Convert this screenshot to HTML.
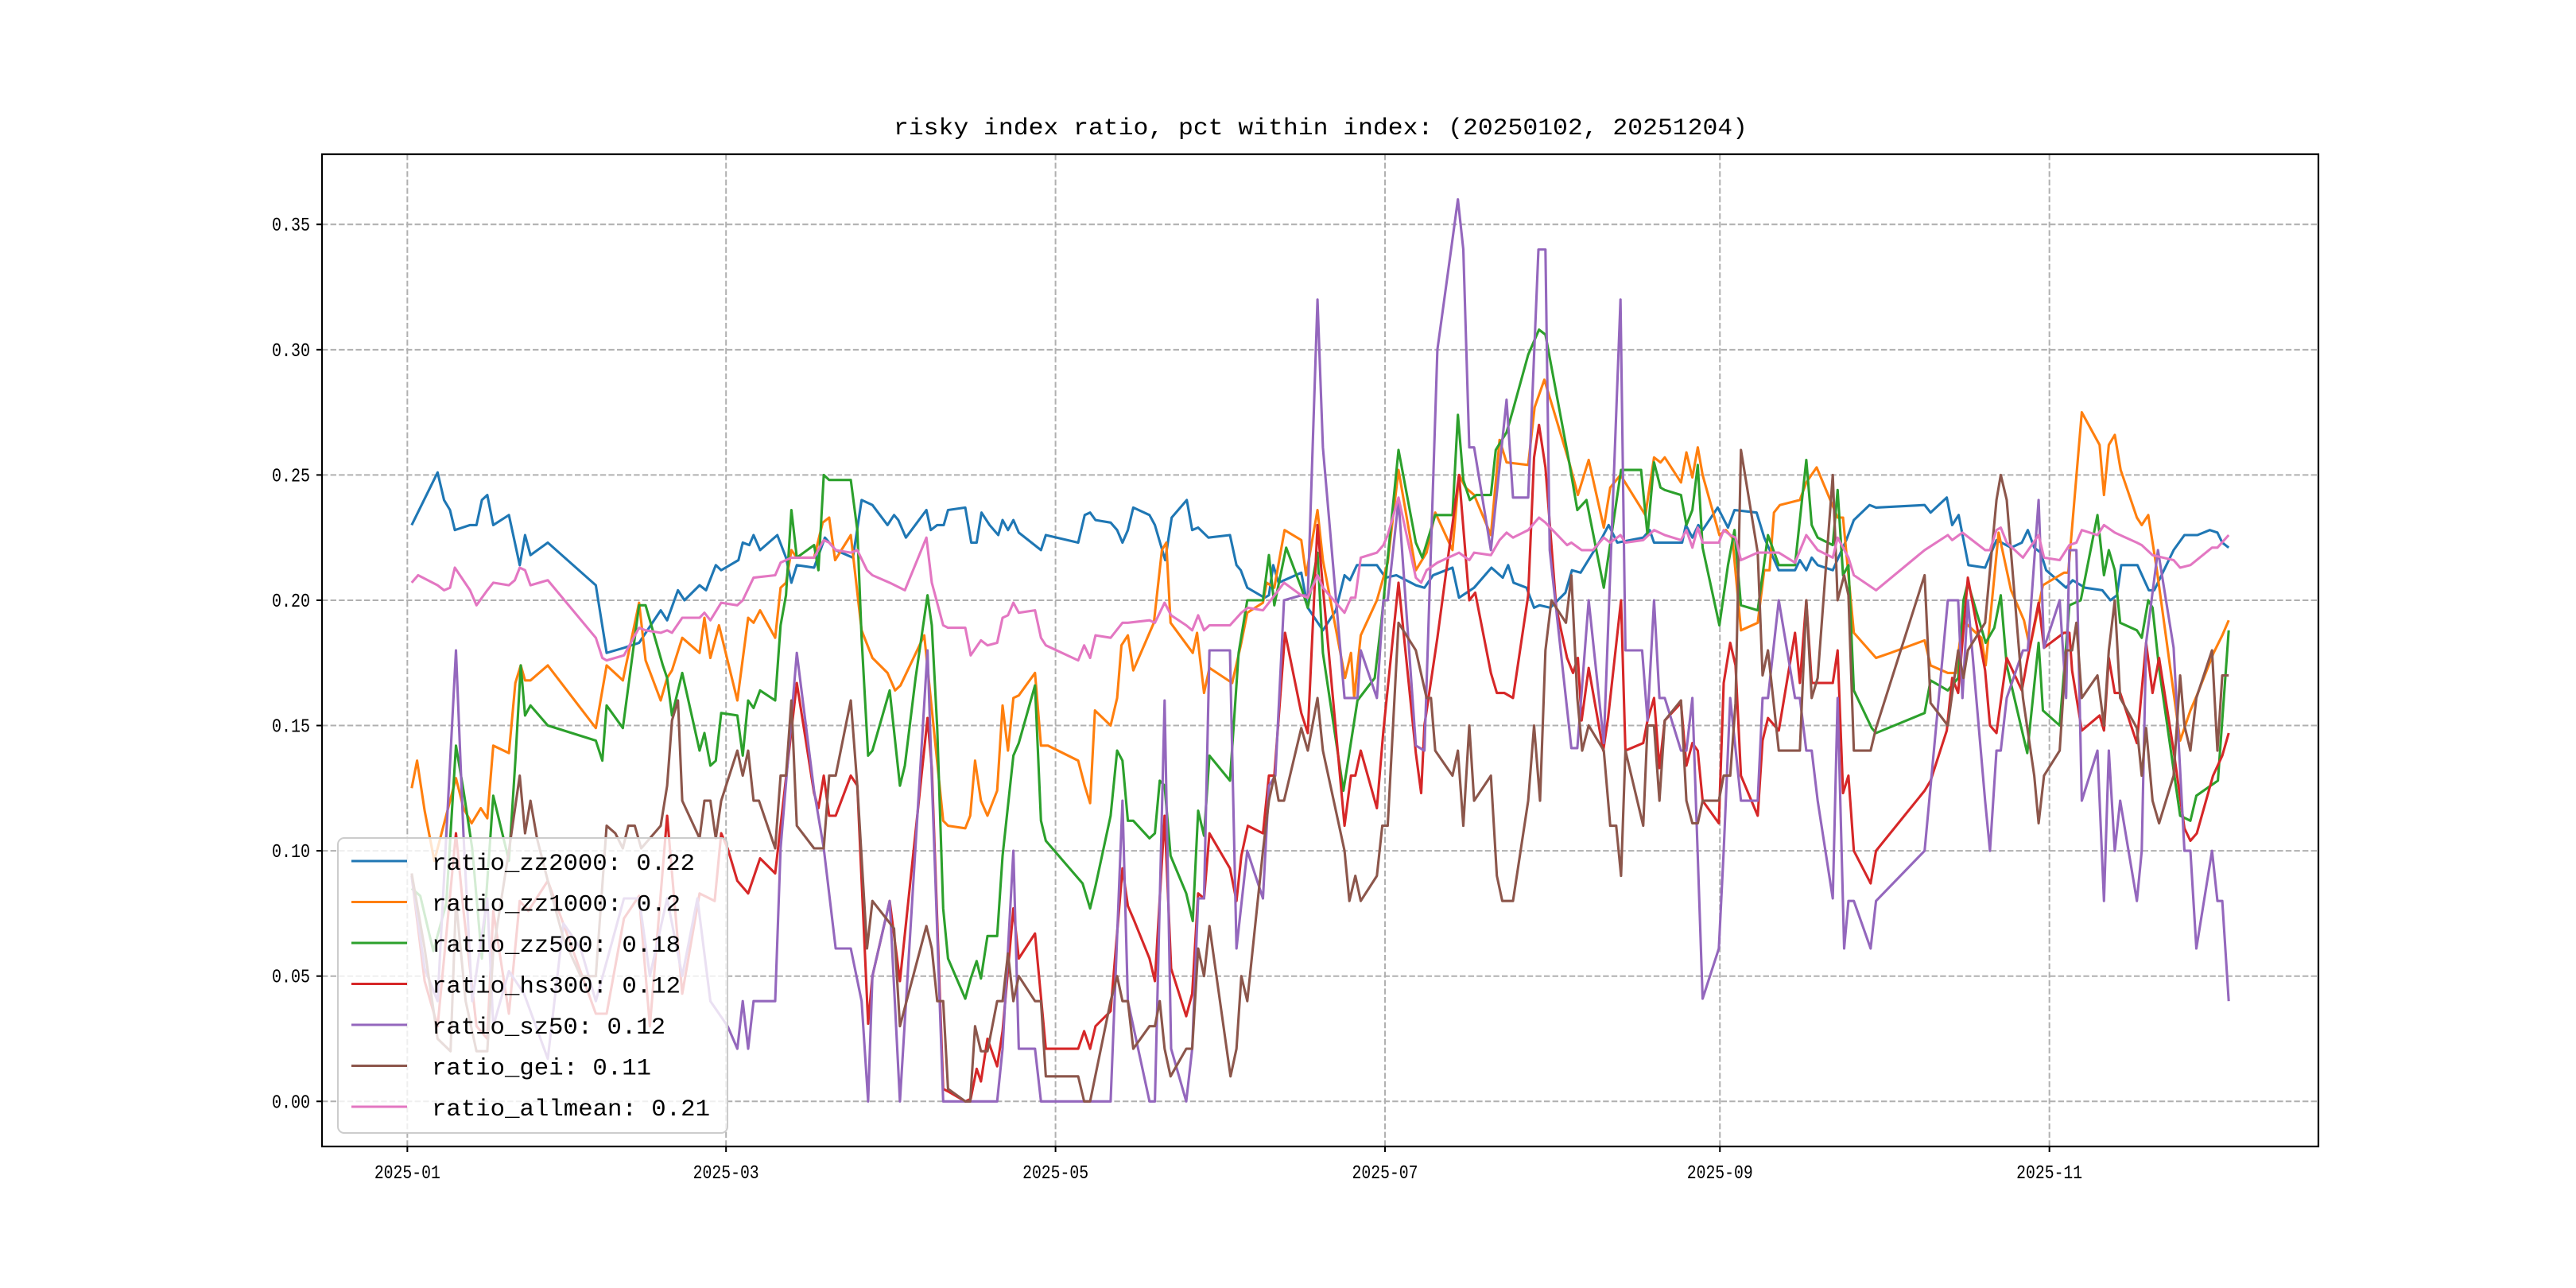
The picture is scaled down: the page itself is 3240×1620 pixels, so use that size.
<!DOCTYPE html>
<html><head><meta charset="utf-8"><style>html,body{margin:0;padding:0;background:#fff}svg{display:block}</style></head>
<body>
<svg id="chart" width="3240" height="1620" viewBox="0 0 3240 1620" xmlns="http://www.w3.org/2000/svg" font-family="'Liberation Mono','WenQuanYi Zen Hei',monospace">
<rect width="3240" height="1620" fill="#fff"/>
<g id="grid"></g>
<g id="series"></g>
<rect x="405" y="194" width="2511" height="1248" fill="none" stroke="#000" stroke-width="2.2"/>
<g id="ticks"></g>
<text x="1661" y="169" font-size="30" text-anchor="middle" textLength="1074" lengthAdjust="spacingAndGlyphs">risky index ratio, pct within index: (20250102, 20251204)</text>
<g id="legend"></g>
</svg>
<script>
const xTickDays=[0,59,120,181,243,304];
const xTickLabels=["2025-01","2025-03","2025-05","2025-07","2025-09","2025-11"];
const yTicks=[0,0.05,0.10,0.15,0.20,0.25,0.30,0.35];
const yTickLabels=["0.00","0.05","0.10","0.15","0.20","0.25","0.30","0.35"];
const seriesNames=["ratio_zz2000","ratio_zz1000","ratio_zz500","ratio_hs300","ratio_sz50","ratio_gei","ratio_allmean"];
const seriesMeans=["0.22","0.2","0.18","0.12","0.12","0.11","0.21"];
const colors=["#1f77b4","#ff7f0e","#2ca02c","#d62728","#9467bd","#8c564b","#e377c2"];

const zz2000Days=[0.8,5.6,6.8,7.9,8.8,11.6,12.8,13.8,14.8,15.9,18.8,20.8,21.8,22.8,26,34.9,36.9,40.1,42.9,46.9,48.1,50.1,51.3,54.1,55.3,57.1,58.1,61.3,62.1,63.3,64.1,65.3,68.5,70.1,71.1,72.1,75.3,77.3,79.3,82.5,84.1,86.1,88.9,90.1,90.9,92.3,96.1,96.9,98.1,99.3,100.1,103.3,104.4,105.4,106.3,107.8,109.4,110.2,111.2,112.2,113.2,117.3,118.2,124.2,125.4,126.4,127.4,130.2,131.4,132.4,133.4,134.4,137.4,138.4,140.3,141.5,144.3,145.3,146.4,148.3,152.3,153.5,154.3,155.5,158.7,159.5,160.3,161.3,165.5,166.7,169.5,171.9,173.5,174.5,175.8,179.5,181.1,183.1,186.7,188.3,189.9,193.5,194.7,197.5,200.7,202.8,203.8,204.8,207.2,208.6,209.6,211.6,214.4,215.6,217.2,219.2,221.2,222.4,224,228.8,230,230.8,232.8,236,236.7,237.9,239,239.8,242.6,244.5,245.7,249.8,251.2,253.9,256.9,257.8,259,260,261.1,263.9,266.4,267.8,270.7,271.9,280.9,282,285,286,287.2,289,292.1,294.2,296.9,298.9,300,301.2,302.4,303.4,307.1,308.3,310.6,313.8,315.3,316.5,317.3,320.3,322.4,323.4,327,329,331.4,333.7,335.1,336,337.2];
const zz2000Vals=[.230,.251,.240,.236,.228,.230,.230,.240,.242,.230,.234,.214,.226,.218,.223,.206,.179,.181,.183,.196,.192,.204,.200,.206,.204,.214,.212,.216,.223,.222,.226,.220,.226,.217,.207,.214,.213,.225,.220,.217,.240,.238,.230,.234,.232,.225,.236,.228,.230,.230,.236,.237,.223,.223,.235,.230,.226,.232,.228,.232,.227,.220,.226,.223,.234,.235,.232,.231,.228,.223,.228,.237,.234,.230,.216,.233,.240,.228,.229,.225,.226,.214,.212,.205,.201,.202,.214,.207,.211,.197,.188,.196,.210,.208,.214,.214,.209,.210,.206,.205,.210,.213,.201,.205,.213,.209,.214,.207,.205,.197,.198,.197,.203,.212,.211,.218,.225,.230,.223,.225,.228,.223,.223,.223,.230,.225,.230,.228,.237,.229,.236,.235,.225,.212,.212,.216,.212,.217,.214,.212,.224,.232,.238,.237,.238,.235,.241,.230,.234,.214,.213,.224,.221,.223,.228,.221,.219,.212,.205,.208,.205,.204,.200,.202,.214,.214,.204,.204,.220,.226,.226,.228,.227,.223,.221];

const zz1000Days=[0.8,1.8,3.2,5,9,10.4,11.9,13.6,14.8,15.9,18.8,20,21,21.8,22.8,26,34.9,36.9,39.9,42.9,44.1,46.9,48.1,49,50.9,54.1,55,56.1,57.7,61.1,63.1,64.1,65.3,68.1,69.1,70.1,71.1,72.1,75.3,76.9,78.1,79.2,82.1,84.1,86.1,88.9,90.3,91.3,95.7,99.2,100.1,103.3,104.2,105.1,106.2,107.4,109.2,110.2,111.2,112.2,113.2,116.2,117.3,118.6,124.2,125.4,126.4,127.3,130.2,131.4,132.2,133.4,134.4,138.2,139.7,140.5,141.3,145.4,146.2,147.5,148.5,152.7,154.3,155.5,158.4,159.1,160.5,162.4,165.5,166.4,168.5,169.5,173.6,174.7,175.3,176.5,179.5,181.5,183.5,186.7,188.7,190.3,193.5,194.7,195.9,197.5,200.6,202.2,203.5,207.5,208.7,210.5,211.9,215.1,216.7,218.7,221.5,222.7,224.6,229.2,230.8,232,232.8,235.8,236.8,237.9,238.9,239.8,242.9,244.1,245.3,246.9,250,251.2,252.2,253,254.1,257.8,259,260.9,264.8,265.8,267.8,271.9,274.6,280.9,282,285.2,286.7,287.9,291.4,292.2,294.6,296.9,299.3,300.4,302.8,306.7,307.5,310,313.3,314.1,315,316.1,317.2,320.2,321.1,322.3,323.9,328.2,330.1,331.3,334.4,336,337.2];
const zz1000Vals=[.125,.136,.116,.096,.129,.117,.111,.117,.113,.142,.139,.167,.174,.168,.168,.174,.149,.174,.168,.199,.176,.160,.169,.172,.185,.179,.193,.177,.190,.160,.193,.191,.196,.185,.205,.207,.220,.217,.217,.231,.233,.216,.226,.188,.177,.171,.164,.166,.186,.112,.110,.109,.114,.136,.120,.114,.124,.158,.140,.161,.162,.171,.142,.142,.136,.126,.119,.156,.150,.161,.182,.186,.172,.191,.220,.223,.191,.179,.187,.163,.173,.167,.182,.195,.199,.207,.205,.228,.224,.210,.236,.216,.169,.179,.161,.186,.200,.215,.252,.212,.219,.235,.220,.250,.245,.242,.226,.264,.255,.254,.277,.288,.278,.255,.242,.256,.229,.245,.250,.234,.257,.255,.257,.247,.259,.249,.261,.250,.226,.228,.225,.188,.191,.212,.212,.235,.238,.240,.247,.253,.233,.233,.187,.177,.179,.184,.174,.171,.171,.192,.185,.174,.227,.204,.192,.181,.206,.211,.211,.275,.262,.242,.262,.266,.252,.233,.230,.234,.212,.144,.156,.162,.179,.186,.192];

const zz500Days=[0.8,2.4,4.8,7.2,9,10.4,12,13.8,15.9,18.8,20,21,21.8,22.8,26,34.9,36.1,36.9,39.9,42.9,44.1,47.3,48.1,49,50.9,54.1,55,56.1,57.1,58.1,61.1,62.1,63.1,64.1,65.3,68.1,69.1,70.1,71.1,72.1,75.3,76.1,77.1,78.1,82.1,83.3,84.1,85.3,86.1,89.3,91.2,92.1,94.1,96.3,97.1,98.1,99.2,100.1,103.3,104.3,105.4,106.2,107.4,109.2,110.2,112.2,113.2,116.2,117.3,118.2,125,126.4,127.4,130.2,131.4,132.4,133.4,134.4,137.4,138.4,139.3,140.2,141.3,144.2,145.4,146.4,147.5,148.5,152.3,153.9,155.5,158.4,159.5,160.5,162.7,165.5,166.7,168.5,169.5,173.3,175.9,179.1,180.3,183.5,186.7,187.9,190.3,193.5,194.5,195.5,196.7,197.9,200.6,201.5,203.5,204.7,207.5,209.5,210.7,215.1,216.6,218.3,221.5,224.7,228.4,229.6,230.8,232,232.8,235.8,236.8,237.9,238.9,239.8,242.9,244.5,245.7,246.9,250,251.9,253.9,256.9,259,260,261.1,263.9,264.8,265.8,266.8,267.8,271.1,271.9,280.9,282,285.2,287.1,288.1,288.9,292.2,293.8,295,296.1,299.9,302,302.8,305.9,307.7,309.8,312.9,314.1,315,316.1,317.1,320.2,321.1,322.3,323.1,324.3,328.2,330.1,331.2,335.2,337.2];
const zz500Vals=[.085,.082,.060,.079,.142,.124,.101,.057,.122,.096,.136,.174,.154,.158,.150,.144,.136,.158,.149,.198,.198,.174,.169,.154,.171,.140,.147,.134,.136,.155,.154,.138,.160,.157,.164,.160,.190,.202,.236,.217,.222,.212,.250,.248,.248,.228,.185,.138,.140,.164,.126,.134,.169,.202,.190,.149,.077,.057,.041,.049,.056,.049,.066,.066,.098,.138,.143,.166,.112,.104,.087,.077,.086,.114,.140,.136,.112,.112,.105,.107,.128,.126,.098,.083,.072,.116,.106,.138,.128,.179,.200,.200,.218,.198,.221,.205,.197,.219,.179,.124,.160,.169,.191,.260,.223,.217,.234,.234,.274,.248,.240,.242,.242,.260,.267,.276,.298,.308,.306,.255,.236,.240,.205,.252,.252,.226,.255,.245,.244,.242,.230,.236,.254,.221,.190,.214,.228,.198,.196,.226,.214,.214,.256,.230,.225,.222,.244,.210,.214,.164,.149,.147,.155,.168,.164,.169,.200,.207,.183,.189,.202,.174,.139,.183,.156,.150,.198,.200,.234,.210,.220,.212,.191,.188,.185,.200,.197,.173,.114,.112,.122,.128,.188];

const hs300Days=[0.8,3.2,5.6,9,10.4,12.8,14.8,15.9,18.8,20.8,22.4,26,34.9,36.9,40.1,42.9,44.9,48.1,50.9,54.1,56.9,58.1,59.3,61.1,63.1,65.3,68.1,70.1,72.1,75.3,76.1,77.1,78.1,79.3,82.1,83.3,85.3,86.1,89.3,91.2,96.3,97.1,99.2,100.1,103.3,104.3,105.4,106.2,107.4,109.2,110.2,112.2,113.2,116.2,118.2,124.2,125.3,126.4,127.4,130.2,132.4,133.4,134.4,137.4,138.4,140.2,141.4,144.2,145.3,146.4,147.5,148.5,152.3,153.5,154.4,155.6,158.4,159.5,160.5,162.5,165.5,166.7,168.5,169.5,173.5,174.7,175.5,176.5,179.5,180.7,183.5,186.7,187.7,188.3,190.7,194.7,196.6,197.7,200.6,201.7,203.1,204.7,207.5,208.6,209.5,210.7,212.7,214.7,215.8,216.7,217.4,218.7,221.4,222.3,224.7,225.5,228.8,229.6,230.8,231.8,232.8,235.8,236.8,237.9,238.9,239.8,242.8,243.7,244.9,245.9,246.9,250,250.9,251.9,253.9,256.9,257.8,259,260,263.9,264.8,265.8,266.8,267.8,270.9,271.9,280.9,282,285,286,287.1,288.9,292.1,293,294.2,296.1,298.9,299.9,302,303,306.7,307.7,308.2,310,313.3,314.1,315,316.1,317.1,320.2,321.9,323.1,324.3,327,329,330.1,331.3,334.3,336,337.2];
const hs300Vals=[.090,.048,.030,.107,.076,.030,.025,.076,.035,.080,.076,.088,.035,.035,.073,.082,.030,.114,.043,.083,.080,.107,.101,.088,.083,.097,.091,.129,.167,.123,.117,.130,.114,.114,.130,.126,.031,.050,.080,.048,.153,.133,.005,.004,0,.001,.013,.008,.025,.014,.028,.077,.057,.067,.021,.021,.028,.021,.030,.036,.093,.078,.073,.057,.048,.114,.053,.034,.043,.083,.081,.107,.093,.080,.098,.110,.107,.130,.130,.187,.155,.147,.230,.205,.110,.130,.130,.140,.117,.148,.207,.139,.123,.150,.185,.250,.200,.203,.171,.163,.163,.161,.202,.257,.270,.253,.197,.177,.171,.177,.152,.173,.140,.153,.200,.140,.143,.152,.161,.133,.152,.159,.134,.143,.140,.120,.111,.167,.183,.174,.130,.114,.144,.153,.148,.187,.167,.200,.167,.167,.180,.123,.130,.100,.087,.100,.124,.128,.148,.169,.163,.209,.172,.150,.147,.177,.164,.176,.199,.181,.187,.187,.172,.148,.154,.148,.177,.163,.163,.143,.183,.163,.177,.140,.109,.104,.107,.130,.138,.147];

const sz50Days=[0.8,3.2,5.6,9,10.4,12,14.8,15.9,18.8,21.6,26,28.9,32.1,34.9,40.1,42.9,44.9,48.1,50.9,53.7,56.1,59.3,61.1,62.1,63.1,64.1,68.1,69.1,72.1,75.3,77.1,79.3,82.1,84.1,85.3,86.1,89.3,91.2,96.3,97.1,99.2,109.2,110.2,112.2,113.2,116.2,117.3,130.2,132.4,133.4,137.4,138.4,140.2,141.4,144.2,145.3,146.4,147.5,148.5,152.3,153.5,155.5,158.4,159.5,160.7,162.3,165.5,166.7,168.5,169.5,173.5,175.9,176.5,179.5,180.7,181.5,183.5,186.7,188.3,190.7,193.3,194.5,195.5,196.6,197.5,200.6,203.5,204.7,207.5,209.4,210.7,211.5,215.5,216.6,218.7,221.5,224.6,225.5,228.6,229.6,230.8,231.8,232.8,235.8,236.8,237.9,239.8,242.8,243.7,244.9,246.9,250,250.9,251.9,253.9,256.9,257.8,259,260,261.1,263.9,264.8,266,266.8,267.8,270.9,271.9,280.9,285.2,287.1,287.9,288.9,292.1,293,294.2,295,296.1,299.1,300,302,303,305.9,307.1,307.7,309,310,312.9,314.1,315,316.1,317.1,320.2,321.1,321.9,324.1,327,329,330.1,331.2,334.1,335.1,336,337.2];
const sz50Vals=[.090,.053,.040,.180,.106,.040,.081,.030,.052,.043,.017,.071,.061,.040,.081,.081,.050,.081,.050,.081,.040,.030,.021,.040,.021,.040,.040,.101,.179,.124,.101,.061,.061,.040,0,.050,.080,0,.180,.129,0,0,.021,.100,.021,.021,0,0,.120,.040,0,0,.160,.021,0,.021,.081,.081,.180,.180,.061,.100,.081,.126,.130,.200,.202,.202,.320,.261,.161,.161,.180,.161,.200,.200,.240,.142,.140,.300,.341,.360,.340,.261,.261,.220,.280,.241,.241,.340,.340,.220,.141,.141,.200,.143,.320,.180,.180,.152,.200,.161,.161,.140,.140,.161,.041,.061,.100,.161,.120,.120,.161,.161,.200,.161,.161,.140,.140,.120,.081,.161,.061,.080,.080,.061,.080,.100,.200,.200,.161,.200,.120,.100,.140,.140,.161,.180,.180,.240,.181,.200,.161,.220,.220,.120,.140,.080,.140,.100,.120,.080,.100,.183,.220,.181,.100,.100,.061,.100,.080,.080,.040];

const geiDays=[0.8,3.2,5.6,8,9,10.8,12.8,14.8,15.9,18.8,20.8,21.8,22.8,24,26,28.9,32.1,34.9,36.9,38.5,39.9,40.9,42.1,43.3,46.9,48.1,49,50.1,50.9,54.1,55,56.1,57.1,58.1,61.1,62.1,63.1,64.1,65.1,68.1,69.1,70.1,71.1,72.1,75.3,77.1,78.1,79.3,82.1,83.3,85.1,86.1,90.1,91.2,96.1,97.1,98.1,99.2,100.1,103.3,104.2,105.1,106.2,107.4,109.2,110.2,111.2,112.2,113.2,116.2,117.3,118.2,124.2,125.3,126.4,130.2,131.4,132.4,133.4,134.4,137.4,138.4,139.3,140.2,141.3,144.2,145.3,146.4,147.5,148.5,152.4,153.5,154.4,155.5,158.4,159.5,160.5,161.3,162.3,165.5,166.7,168.5,169.5,173.5,174.4,175.5,176.5,179.5,180.5,181.5,183.5,186.7,188.7,189.5,190.3,193.5,194.5,195.5,196.6,197.5,200.6,201.7,202.7,204.7,207.5,208.6,209.7,210.7,211.8,214.5,215.5,216.6,217.5,218.7,221.5,222.7,223.8,224.7,225.5,228.8,229.6,230.8,231.8,232.8,235.8,236.8,237.9,238.9,239.8,242.8,243.7,244.9,245.9,246.9,250,250.9,251.9,253.9,257.8,259,260,261.1,263.9,264.8,266,266.8,267.8,270.9,271.9,280.9,282,285.2,287.1,288.1,288.9,292.1,293,294.2,295,296.1,299.1,301.2,302,303,305.9,307.1,308.2,309,310,312.9,314.1,315,316.1,317.1,320.2,321.1,321.9,323.1,324.3,327,328.2,329,330.1,331.2,334.1,335.1,336,337.2];
const geiVals=[.091,.061,.025,.020,.080,.040,.020,.020,.060,.100,.130,.107,.120,.105,.088,.065,.050,.050,.110,.107,.101,.110,.110,.101,.110,.126,.152,.160,.120,.105,.120,.120,.105,.120,.140,.130,.140,.120,.120,.101,.130,.130,.160,.110,.101,.101,.130,.130,.160,.126,.061,.080,.069,.030,.070,.061,.040,.040,.005,0,0,.030,.020,.020,.040,.040,.059,.040,.050,.040,.040,.010,.010,0,0,.040,.050,.040,.040,.021,.030,.030,.040,.021,.010,.021,.021,.061,.050,.070,.010,.021,.050,.040,.100,.120,.130,.120,.120,.149,.140,.161,.140,.100,.080,.090,.080,.090,.110,.110,.191,.180,.161,.161,.140,.130,.140,.110,.150,.120,.130,.090,.080,.080,.120,.150,.120,.180,.200,.191,.210,.161,.140,.150,.140,.110,.110,.090,.140,.110,.150,.150,.120,.152,.160,.120,.111,.111,.120,.120,.130,.130,.159,.260,.219,.170,.180,.140,.140,.200,.161,.169,.250,.200,.210,.202,.140,.140,.149,.210,.159,.150,.180,.169,.180,.191,.212,.240,.250,.240,.161,.130,.111,.130,.140,.180,.180,.191,.161,.170,.150,.180,.200,.161,.149,.130,.149,.120,.111,.130,.170,.150,.140,.161,.180,.140,.170,.170];

const allmeanDays=[0.8,2,5.6,6.8,7.9,8.8,11.6,12.8,14.8,15.9,18.8,19.9,20.8,21.8,22.8,26,34.9,36.1,36.9,40.1,42.9,44.1,46.9,48.1,49,50.9,54.1,55,56.1,58.1,61.1,62.1,64.1,68.1,69.1,70.1,71.1,72.1,75.3,77.1,78.1,79.3,82.1,83.3,85.1,86.1,89.3,92.1,96.1,97.1,99.2,100.1,103.3,104.3,106.2,107.4,109.2,110.2,111.2,112.2,113.2,116.2,117.3,118.2,124.2,125.3,126.4,127.4,130.2,132.4,133.4,137.4,138.4,140.2,141.4,144.2,145.3,146.4,147.5,148.5,152.3,154.4,155.6,158.4,159.5,162.3,165.5,166.7,168.5,169.5,173.5,174.7,175.5,176.5,179.5,180.7,181.5,183.5,186.7,187.7,188.7,190.7,194.7,196.6,197.5,200.6,202.2,203.5,204.7,207.5,209.5,210.7,214.7,215.5,217.4,219.5,221.5,222.7,224.6,225.5,228.8,230.8,232.8,235.8,236.8,237.9,238.9,239.8,242.8,243.7,244.9,245.9,246.9,250,251.2,253.9,256.9,259,261.1,263.9,264.8,266.8,267.8,271.9,280.9,285.2,286,287.9,292.1,293,294.2,295,296.1,299.1,302,303,305.9,307.7,309,310,312.9,314.1,316.1,317.1,320.2,321.1,323.1,327,328.2,330.1,334.1,335.1,337.2];
const allmeanVals=[.207,.210,.206,.204,.205,.213,.204,.198,.204,.207,.206,.208,.213,.212,.206,.208,.185,.177,.176,.178,.189,.188,.187,.188,.187,.193,.193,.195,.192,.199,.198,.200,.209,.210,.215,.216,.217,.217,.217,.224,.223,.220,.219,.220,.212,.210,.207,.204,.225,.207,.190,.189,.189,.178,.184,.182,.183,.193,.194,.199,.195,.196,.185,.182,.176,.182,.177,.186,.185,.191,.191,.192,.191,.199,.194,.190,.188,.194,.188,.190,.190,.195,.197,.196,.199,.207,.202,.201,.210,.205,.195,.201,.201,.217,.219,.222,.226,.241,.209,.207,.212,.215,.219,.216,.219,.218,.224,.227,.225,.228,.233,.231,.222,.223,.220,.220,.225,.223,.226,.223,.224,.228,.226,.224,.228,.221,.229,.223,.223,.228,.226,.225,.216,.219,.219,.219,.215,.226,.220,.217,.225,.217,.210,.204,.220,.226,.224,.227,.220,.220,.228,.229,.223,.217,.226,.217,.216,.222,.223,.228,.226,.230,.227,.226,.223,.222,.218,.216,.213,.214,.221,.221,.226];

const X0=405,X1=2916,Y0=194,Y1=1442;
const xMin=1-16.8,xMax=337+16.8,yMin=-0.018,yMax=0.378;
function xs(d){return X0+(d-xMin)/(xMax-xMin)*(X1-X0);}
function ys(v){return Y1-(v-yMin)/(yMax-yMin)*(Y1-Y0);}
const NS="http://www.w3.org/2000/svg";
function mk(tag,attrs,parent){const e=document.createElementNS(NS,tag);for(const k in attrs)e.setAttribute(k,attrs[k]);parent.appendChild(e);return e;}
const grid=document.getElementById('grid'),ticks=document.getElementById('ticks'),series=document.getElementById('series'),legend=document.getElementById('legend');
xTickDays.forEach((d,i)=>{
  const x=xs(d);
  const g=mk('line',{x1:x,x2:x,y1:Y0,y2:Y1,stroke:'#b0b0b0','stroke-width':2,'stroke-dasharray':'7.4,3.2'},grid);
  
  
  const t=mk('line',{x1:x,x2:x,y1:Y1,y2:Y1+7,stroke:'#000','stroke-width':2},ticks);
  
  
  const l=mk('text',{x:x,y:1482,'font-size':24,'text-anchor':'middle',textLength:83,lengthAdjust:'spacingAndGlyphs'},ticks);
  l.textContent=xTickLabels[i];
  
  
});
yTicks.forEach((v,i)=>{
  const y=ys(v);
  const g=mk('line',{x1:X0,x2:X1,y1:y,y2:y,stroke:'#b0b0b0','stroke-width':2,'stroke-dasharray':'7.4,3.2'},grid);
  
  
  const t=mk('line',{x1:X0-7,x2:X0,y1:y,y2:y,stroke:'#000','stroke-width':2},ticks);
  
  
  const l=mk('text',{x:390,y:y+8,'font-size':24,'text-anchor':'end',textLength:48,lengthAdjust:'spacingAndGlyphs'},ticks);
  l.textContent=yTickLabels[i];
  
  
});
const allDays=[zz2000Days,zz1000Days,zz500Days,hs300Days,sz50Days,geiDays,allmeanDays];
const allVals=[zz2000Vals,zz1000Vals,zz500Vals,hs300Vals,sz50Vals,geiVals,allmeanVals];
allDays.forEach((days,s)=>{
  const vals=allVals[s];
  const n=Math.min(days.length,vals.length);
  let dstr='';
  for(let i=0;i<n;i++){dstr+=(i?'L':'M')+xs(days[i]).toFixed(1)+','+ys(vals[i]).toFixed(1);}
  const p=mk('path',{d:dstr,fill:'none',stroke:colors[s],'stroke-width':3.1,'stroke-linejoin':'round'},series);
  
  
});
const box=mk('rect',{x:425,y:1054,width:490,height:371,rx:8,fill:'#fff','fill-opacity':0.8,stroke:'#cccccc','stroke-width':2},legend);


seriesNames.forEach((nm,i)=>{
  const y=1094+i*51.5;
  const ln=mk('line',{x1:442,x2:512,y1:y-11,y2:y-11,stroke:colors[i],'stroke-width':3.1},legend);
  
  
  const label=nm+': '+seriesMeans[i];
  const t=mk('text',{x:543,y:y,'font-size':30,textLength:(label.length*18.4).toFixed(0),lengthAdjust:'spacingAndGlyphs'},legend);
  t.textContent=label;
  
  
});
</script>
</body></html>
